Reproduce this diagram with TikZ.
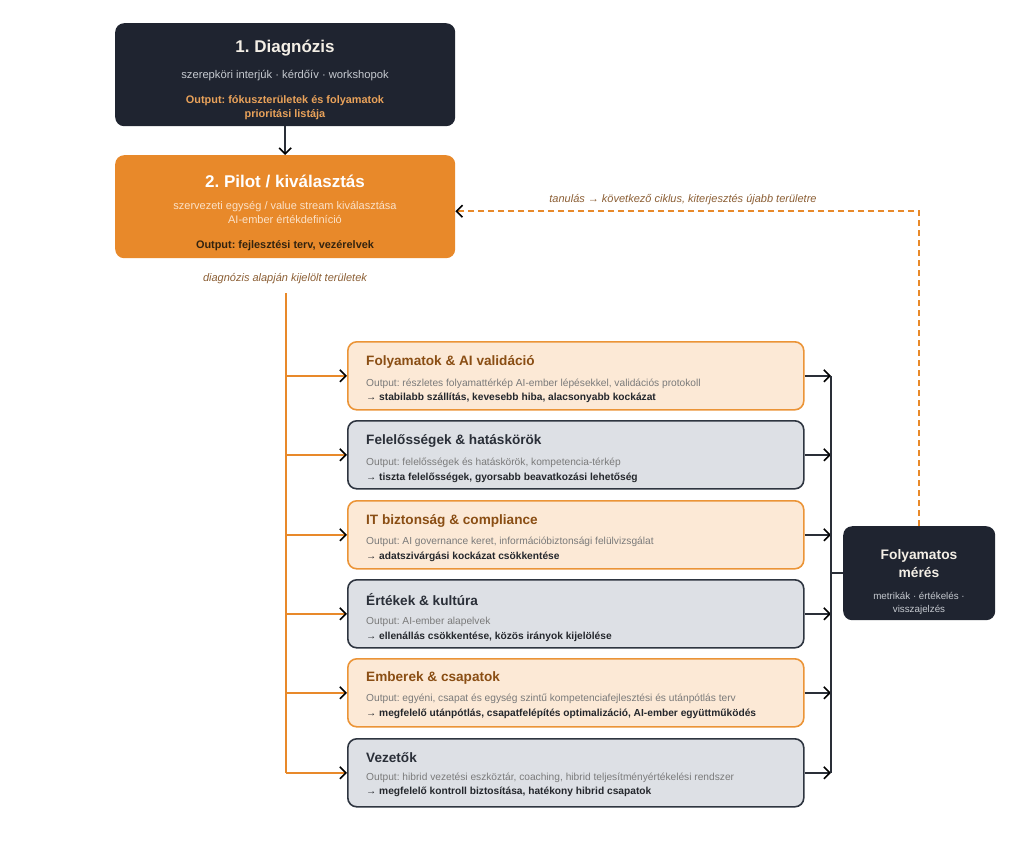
\documentclass[tikz,border=0pt]{standalone}
\usepackage{fontspec}
\setmainfont{Liberation Sans}
\usetikzlibrary{arrows.meta}
\frenchspacing
\definecolor{darkbox}{HTML}{1F2430}
\definecolor{orangebox}{HTML}{E8892A}
\definecolor{lightor}{HTML}{FCE9D6}
\definecolor{orborder}{HTML}{EB9437}
\definecolor{graybox}{HTML}{DDE0E5}
\definecolor{grayborder}{HTML}{2E3540}
\definecolor{browntitle}{HTML}{8A4E14}
\definecolor{darktitle}{HTML}{2A2F38}
\definecolor{outgray}{HTML}{7A7A7A}
\definecolor{boldtxt}{HTML}{24272C}
\definecolor{labelbrown}{HTML}{8B5E34}
\definecolor{cream}{HTML}{F4EFE6}
\definecolor{subgray}{HTML}{C6CAD0}
\definecolor{outorange}{HTML}{E9A25A}
\definecolor{subcream}{HTML}{FBE2C9}
\definecolor{outdark}{HTML}{33230F}
\definecolor{linedark}{HTML}{2A2F38}
\tikzset{
  bigbox/.style={rounded corners=9pt, inner sep=0pt, anchor=north west},
  darkfill/.style={bigbox, fill=darkbox},
  orfill/.style={bigbox, fill=orangebox},
  orarea/.style={bigbox, fill=lightor, draw=orborder, line width=1.6pt, minimum width=456pt, minimum height=68pt},
  grarea/.style={bigbox, fill=graybox, draw=grayborder, line width=1.6pt, minimum width=456pt, minimum height=68pt},
  bigtitle/.style={font=\fontsize{17}{20}\selectfont\bfseries, anchor=center},
  areatitle/.style={font=\fontsize{13.6}{16}\selectfont\bfseries, anchor=west, inner sep=0pt},
  outline/.style={font=\fontsize{10.2}{12}\selectfont, text=outgray, anchor=west, inner sep=0pt},
  resline/.style={font=\fontsize{10.2}{12}\selectfont\bfseries, text=boldtxt, anchor=west, inner sep=0pt},
  italabel/.style={font=\fontsize{11}{13}\selectfont\itshape, text=labelbrown, anchor=center, inner sep=0pt},
  tip/.style={-{Straight Barb[color=black,length=6pt,width=12pt,line width=1.6pt]}},
  orconn/.style={draw=orangebox, line width=1.6pt, tip},
  orplain/.style={draw=orangebox, line width=1.6pt},
  dkconn/.style={draw=linedark, line width=1.5pt, tip},
  dkplain/.style={draw=linedark, line width=1.5pt},
  fbconn/.style={draw=orangebox, line width=1.5pt, dash pattern=on 6pt off 4pt, tip},
}
\begin{document}
\begin{tikzpicture}[x=1pt,y=-1pt]
\useasboundingbox (0,0) rectangle (1024,864);
% Stage 1
\node[darkfill, minimum width=340pt, minimum height=103pt] (D) at (115,23) {};
\node[bigtitle, text=cream] (Dt) at (285,48) {1. Diagnózis};
\node[font=\fontsize{11.2}{13}\selectfont, text=subgray] (Ds) at (285,75.5) {szerepköri interjúk · kérdőív · workshopok};
\node[font=\fontsize{10.9}{14}\selectfont\bfseries, text=outorange, align=center] (Do) at (285,108) {Output: fókuszterületek és folyamatok\\prioritási listája};
% Stage 2
\node[orfill, minimum width=340pt, minimum height=103pt] (P) at (115,155) {};
\node[bigtitle, text=white] (Pt) at (285,181) {2. Pilot / kiválasztás};
\node[font=\fontsize{11}{14}\selectfont, text=subcream, align=center] (Ps) at (285,212.5) {szervezeti egység / value stream kiválasztása\\AI-ember értékdefiníció};
\node[font=\fontsize{10.9}{12}\selectfont\bfseries, text=outdark] (Po) at (285,246) {Output: fejlesztési terv, vezérelvek};
\draw[dkconn] (D.south) -- (P.north);
\node[italabel] (Pl) at (285,279) {diagnózis alapján kijelölt területek};
% Areas
\node[orarea] (A) at (347,341) {};
\node[areatitle, text=browntitle] (At) at (366,362) {Folyamatok \& AI validáció};
\node[outline] (Ao) at (366,384) {Output: részletes folyamattérkép AI-ember lépésekkel, validációs protokoll};
\node[resline] (Ar) at (366,398) {→ stabilabb szállítás, kevesebb hiba, alacsonyabb kockázat};
\node[grarea] (B) at (347,420) {};
\node[areatitle, text=darktitle] (Bt) at (366,441) {Felelősségek \& hatáskörök};
\node[outline] (Bo) at (366,463) {Output: felelősségek és hatáskörök, kompetencia-térkép};
\node[resline] (Br) at (366,478) {→ tiszta felelősségek, gyorsabb beavatkozási lehetőség};
\node[orarea] (C) at (347,500) {};
\node[areatitle, text=browntitle] (Ct) at (366,521) {IT biztonság \& compliance};
\node[outline] (Co) at (366,542) {Output: AI governance keret, információbiztonsági felülvizsgálat};
\node[resline] (Cr) at (366,557) {→ adatszivárgási kockázat csökkentése};
\node[grarea] (E) at (347,579) {};
\node[areatitle, text=darktitle] (Et) at (366,600) {Értékek \& kultúra};
\node[outline] (Eo) at (366,622) {Output: AI-ember alapelvek};
\node[resline] (Er) at (366,637) {→ ellenállás csökkentése, közös irányok kijelölése};
\node[orarea] (G) at (347,658) {};
\node[areatitle, text=browntitle] (Gt) at (366,678) {Emberek \& csapatok};
\node[outline] (Go) at (366,699) {Output: egyéni, csapat és egység szintű kompetenciafejlesztési és utánpótlás terv};
\node[resline] (Gr) at (366,714) {→ megfelelő utánpótlás, csapatfelépítés optimalizáció, AI-ember együttműködés};
\node[grarea] (H) at (347,738) {};
\node[areatitle, text=darktitle] (Ht) at (366,758) {Vezetők};
\node[outline] (Ho) at (366,778) {Output: hibrid vezetési eszköztár, coaching, hibrid teljesítményértékelési rendszer};
\node[resline] (Hr) at (366,792) {→ megfelelő kontroll biztosítása, hatékony hibrid csapatok};
% Measurement
\node[darkfill, minimum width=152pt, minimum height=94pt] (M) at (843,526) {};
\node[font=\fontsize{13.8}{18}\selectfont\bfseries, text=cream, align=center] (Mt) at (919,563.5) {Folyamatos\\mérés};
\node[font=\fontsize{9.8}{13}\selectfont, text=subgray, align=center] (Ms) at (919,603) {metrikák · értékelés ·\\visszajelzés};
% left trunk
\coordinate (lt) at (286,293);
\draw[orplain] (lt) -- (lt |- H.west);
\foreach \b in {A,B,C,E,G,H} \draw[orconn] (lt |- \b.west) -- (\b.west);
% right trunk
\coordinate (rt) at (831,374);
\foreach \b in {A,B,C,E,G,H} \draw[dkconn] (\b.east) -- (rt |- \b.east);
\draw[dkplain] (rt |- A.east) -- (rt |- H.east);
\draw[dkplain] (rt |- M.west) -- (M.west);
% feedback
\coordinate (fb) at ([yshift=-4.5pt]P.east);
\draw[fbconn] (M.north) |- (fb);
\node[italabel] (Fl) at (683,200) {tanulás → következő ciklus, kiterjesztés újabb területre};
\end{tikzpicture}
\end{document}
